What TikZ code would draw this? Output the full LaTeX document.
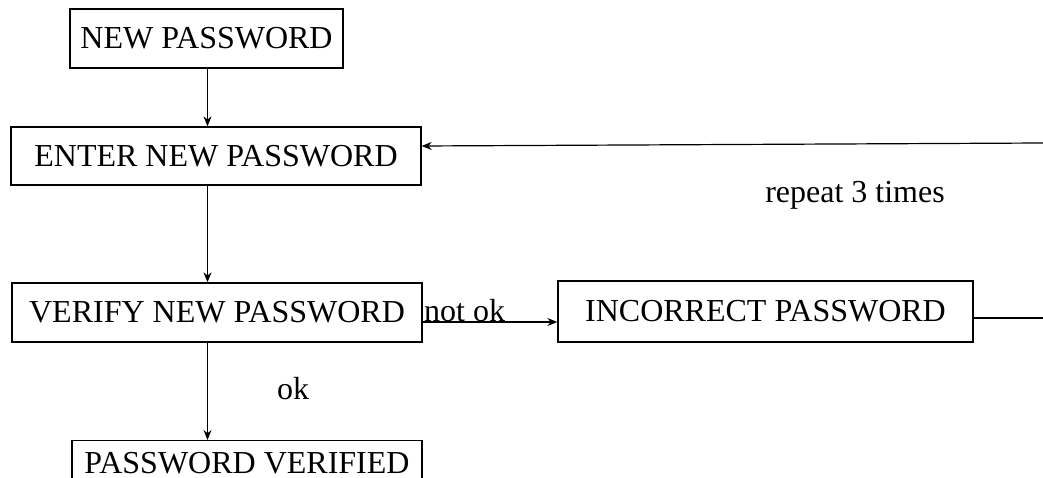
\documentclass[tikz,border=0pt]{standalone}
\usepackage{fontspec}
\setmainfont{Liberation Serif}
\usetikzlibrary{arrows.meta,positioning,calc}

\tikzset{
  pwbox/.style={draw, line width=1.3pt, inner sep=0pt, font=\fontsize{32}{38}\selectfont},
  pwlabel/.style={inner sep=0pt, font=\fontsize{32}{38}\selectfont},
  pwarrow/.style={line width=1.2pt, -{Stealth[length=10pt, width=8pt]}}
}

\begin{document}
\begin{tikzpicture}[x=1pt, y=-1pt]
        \useasboundingbox (0,0) rectangle (1043,478);

        \node[pwbox, minimum width=273, minimum height=59] (newpw) at (206.5,38.5) {NEW PASSWORD};
        \node[pwbox, minimum width=410, minimum height=58] (enter) at (216,156) {ENTER NEW PASSWORD};
        \node[pwbox, minimum width=410, minimum height=59] (verify) at (217,312.5) {VERIFY NEW PASSWORD};
        \node[pwbox, minimum width=415, minimum height=61] (incorrect) at (765.5,311.5) {INCORRECT PASSWORD};
        % bottom box runs off the lower edge
        \node[pwbox, minimum width=350, text height=33, text depth=25, anchor=north] (verified) at (247,440) {PASSWORD VERIFIED};

        \coordinate (retA) at (1043,143);
        \coordinate (retB) at (1043,318);
        \coordinate (nok) at (422,322);

        \draw[pwarrow] (207.5,0 |- newpw.south) -- (207.5,0 |- enter.north);
        \draw[pwarrow] (207.5,0 |- enter.south) -- (207.5,0 |- verify.north);
        \draw[pwarrow] (207.5,0 |- verify.south) -- (207.5,0 |- verified.north);
        \draw[pwarrow] (nok) -- (nok -| incorrect.west);
        \draw[line width=1.2pt] (incorrect.east |- retB) -- (retB);
        \draw[pwarrow] (retA) -- ($(retA -| enter.east)+(0,3)$);

        \node[pwlabel, anchor=base west] (notok) at (424,321) {not ok};
        \node[pwlabel] (ok) at (293,389) {ok};
        \node[pwlabel] (repeat) at (855,195) {repeat 3 times};
      \end{tikzpicture}
\end{document}
